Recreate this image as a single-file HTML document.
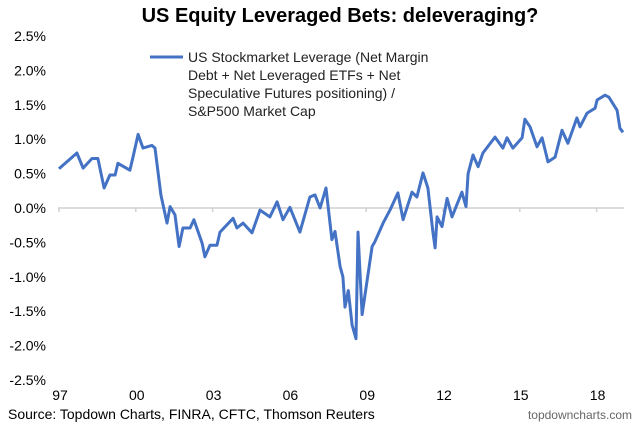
<!DOCTYPE html>
<html><head><meta charset="utf-8"><style>
body{margin:0;background:#fff;font-family:"Liberation Sans",Arial,sans-serif}
svg text{font-family:"Liberation Sans",Arial,sans-serif}
</style></head><body>
<svg width="640" height="429" viewBox="0 0 640 429">
<text x="340" y="22" text-anchor="middle" font-size="20" font-weight="bold" fill="#000">US Equity Leveraged Bets: deleveraging?</text>
<g id="yaxis"></g>
<g id="xaxis"></g>
<path id="line" fill="none" stroke="#4472c4" stroke-width="3" stroke-linejoin="round"/>
<g>
<line x1="150" y1="57" x2="183" y2="57" stroke="#4472c4" stroke-width="3"/>
<text font-size="14" fill="#222">
<tspan x="188" y="62">US Stockmarket Leverage (Net Margin</tspan>
<tspan x="188" y="80">Debt + Net Leveraged ETFs + Net</tspan>
<tspan x="188" y="98">Speculative Futures positioning) /</tspan>
<tspan x="188" y="116">S&amp;P500 Market Cap</tspan></text>
</g>
<text x="8" y="419" font-size="14" fill="#000">Source: Topdown Charts, FINRA, CFTC, Thomson Reuters</text>
<text x="632" y="419" text-anchor="end" font-size="12" fill="#666">topdowncharts.com</text>
</svg>
<script>
const years=[1997.00,1997.70,1997.94,1998.29,1998.52,1998.76,1998.99,1999.19,1999.30,1999.77,1999.89,2000.09,2000.28,2000.63,2000.75,2000.98,2001.22,2001.34,2001.53,2001.69,2001.84,2002.12,2002.27,2002.59,2002.70,2002.90,2003.17,2003.29,2003.80,2003.95,2004.19,2004.54,2004.85,2005.24,2005.52,2005.75,2006.02,2006.41,2006.80,2007.00,2007.20,2007.43,2007.66,2007.78,2007.98,2008.09,2008.17,2008.30,2008.45,2008.60,2008.68,2008.84,2009.23,2009.34,2009.66,2009.93,2010.24,2010.44,2010.79,2010.98,2011.22,2011.41,2011.61,2011.69,2011.77,2011.96,2012.16,2012.35,2012.74,2012.90,2012.98,2013.17,2013.37,2013.56,2014.03,2014.34,2014.50,2014.73,2015.09,2015.20,2015.40,2015.67,2015.87,2016.10,2016.38,2016.65,2016.88,2017.23,2017.35,2017.63,2017.94,2018.02,2018.33,2018.48,2018.80,2018.91,2019.03];
const values=[0.57,0.80,0.58,0.72,0.72,0.29,0.48,0.48,0.65,0.55,0.74,1.07,0.87,0.91,0.87,0.19,-0.22,0.02,-0.10,-0.56,-0.29,-0.29,-0.17,-0.51,-0.71,-0.54,-0.54,-0.35,-0.15,-0.29,-0.22,-0.36,-0.03,-0.13,0.09,-0.17,0.01,-0.35,0.16,0.19,0.00,0.29,-0.46,-0.34,-0.85,-1.00,-1.44,-1.20,-1.70,-1.90,-0.35,-1.55,-0.56,-0.49,-0.22,-0.03,0.22,-0.17,0.23,0.16,0.51,0.29,-0.36,-0.58,-0.13,-0.27,0.14,-0.13,0.23,0.02,0.50,0.77,0.60,0.80,1.03,0.87,1.02,0.87,1.02,1.29,1.18,0.89,1.02,0.67,0.74,1.13,0.94,1.31,1.18,1.38,1.45,1.57,1.64,1.61,1.42,1.16,1.10];
const yTicks=[2.5,2.0,1.5,1.0,0.5,0.0,-0.5,-1.0,-1.5,-2.0,-2.5];
const yTickLabels=["2.5%","2.0%","1.5%","1.0%","0.5%","0.0%","-0.5%","-1.0%","-1.5%","-2.0%","-2.5%"];
const xTicks=[1997,2000,2003,2006,2009,2012,2015,2018];
const xTickLabels=["97","00","03","06","09","12","15","18"];
const NS="http://www.w3.org/2000/svg";
function xs(v){return 59+(v-1997)*25.6;}
function ys(v){return 208-v*68.8;}
const ya=document.getElementById('yaxis'),xa=document.getElementById('xaxis');
yTicks.forEach((t,i)=>{const e=document.createElementNS(NS,'text');
e.setAttribute('x',46);e.setAttribute('y',ys(t)+5);e.setAttribute('text-anchor','end');e.setAttribute('font-size','14');


e.textContent=yTickLabels[i];ya.appendChild(e);});
const zl=document.createElementNS(NS,'line');
zl.setAttribute('x1',58);zl.setAttribute('x2',624);zl.setAttribute('y1',ys(0));zl.setAttribute('y2',ys(0));zl.setAttribute('stroke','#d0d0d0');zl.setAttribute('stroke-width','1.5');


xa.appendChild(zl);
xTicks.forEach((t,i)=>{const tk=document.createElementNS(NS,'line');
tk.setAttribute('x1',xs(t));tk.setAttribute('x2',xs(t));tk.setAttribute('y1',ys(0));tk.setAttribute('y2',ys(0)+4);tk.setAttribute('stroke','#d0d0d0');tk.setAttribute('stroke-width','1.5');


xa.appendChild(tk);
const e=document.createElementNS(NS,'text');
e.setAttribute('x',xs(t)+1);e.setAttribute('y',400);e.setAttribute('text-anchor','middle');e.setAttribute('font-size','14');


e.textContent=xTickLabels[i];xa.appendChild(e);});
document.getElementById('line').setAttribute('d',years.map((y,i)=>(i?'L':'M')+xs(y).toFixed(1)+' '+ys(values[i]).toFixed(1)).join(' '));
</script>
</body></html>
